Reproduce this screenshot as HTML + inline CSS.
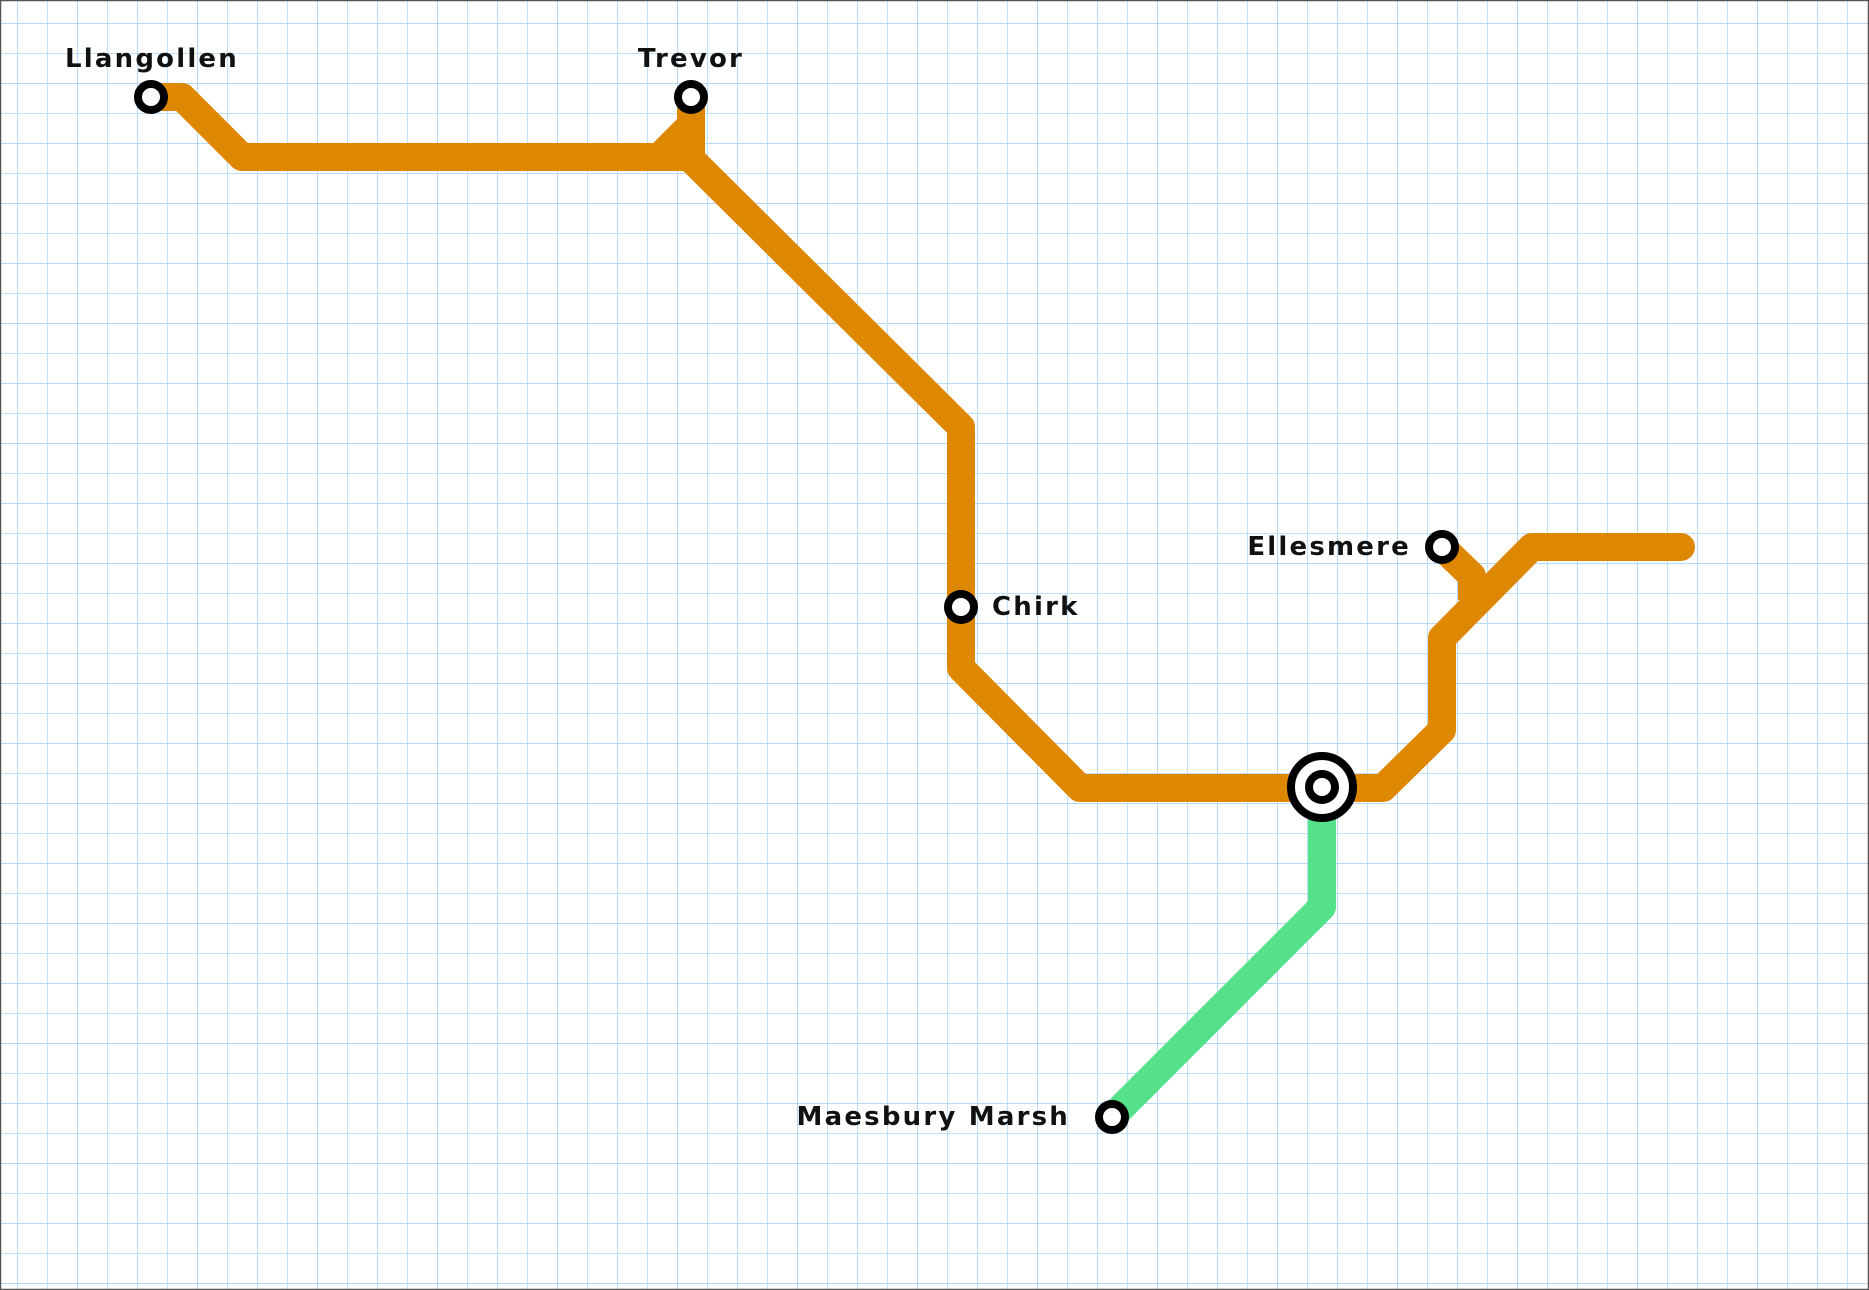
<!DOCTYPE html>
<html><head><meta charset="utf-8"><style>
html,body{margin:0;padding:0;background:#fff;}
svg{display:block;}
text{font-family:"DejaVu Sans","Liberation Sans",sans-serif;font-weight:bold;font-size:26px;letter-spacing:2.2px;fill:#111;}
</style></head><body>
<svg width="1869" height="1290" viewBox="0 0 1869 1290" xmlns="http://www.w3.org/2000/svg">
<defs>
<pattern id="g" x="17" y="23" width="30" height="30" patternUnits="userSpaceOnUse">
<path d="M0 0V30M0 0H30" stroke="#bfe0fb" stroke-width="2" fill="none"/>
</pattern>
<pattern id="G" x="17" y="23" width="60" height="60" patternUnits="userSpaceOnUse">
<path d="M0 0V60M0 0H60" stroke="#a9d2f7" stroke-width="2" fill="none"/>
</pattern>
</defs>
<rect width="1869" height="1290" fill="#fff"/>
<rect width="1869" height="1290" fill="url(#g)"/>
<rect width="1869" height="1290" fill="url(#G)" opacity="0.5"/>
<rect x="0.5" y="0.5" width="1868" height="1289" fill="none" stroke="#555" stroke-width="1.5"/>
<g fill="none" stroke="#dd8800" stroke-width="28" stroke-linejoin="round" stroke-linecap="round">
<path d="M151 97H182L242 157H689L961 427V668L1080 788H1383L1442 730V638L1532 547H1681"/>
<path d="M659 157L691 125V97M691 97V157"/>
</g>
<path d="M1442 547L1472 576V600" fill="none" stroke="#dd8800" stroke-width="28" stroke-linejoin="round"/>
<path d="M1322 787V907L1112 1117" fill="none" stroke="#55e08a" stroke-width="28" stroke-linejoin="round" stroke-linecap="round"/>
<g fill="#fff" stroke="#000" stroke-width="8">
<circle cx="151" cy="97" r="13"/>
<circle cx="691" cy="97" r="13"/>
<circle cx="961" cy="607" r="13"/>
<circle cx="1442" cy="547" r="13"/>
<circle cx="1112" cy="1117" r="13"/>
<circle cx="1322" cy="787" r="31"/>
<circle cx="1322" cy="787" r="13"/>
</g>
<text x="152" y="67" text-anchor="middle">Llangollen</text>
<text x="691" y="67" text-anchor="middle">Trevor</text>
<text x="992" y="615">Chirk</text>
<text x="1411" y="555" text-anchor="end">Ellesmere</text>
<text x="1070" y="1125" text-anchor="end">Maesbury Marsh</text>
</svg>
</body></html>
